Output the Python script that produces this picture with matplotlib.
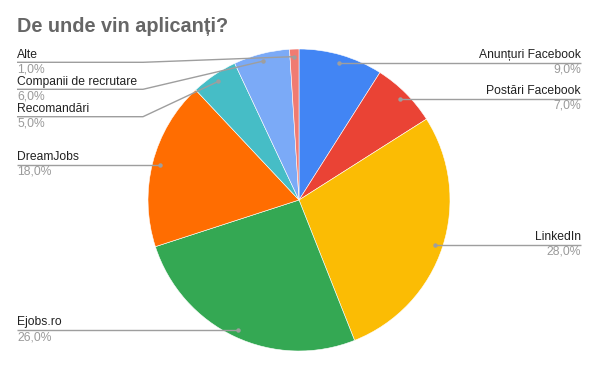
import math

import matplotlib

matplotlib.use("Agg")

import matplotlib.pyplot as plt

plt.rcParams["font.family"] = ["Liberation Sans", "DejaVu Sans"]

W, H = 598, 368

# date
categorii = [
    "Anunțuri Facebook",
    "Postări Facebook",
    "LinkedIn",
    "Ejobs.ro",
    "DreamJobs",
    "Recomandări",
    "Companii de recrutare",
    "Alte",
]
procente = [9.0, 7.0, 28.0, 26.0, 18.0, 5.0, 6.0, 1.0]
culori = ["#4285F4", "#EA4335", "#FBBC04", "#34A853", "#FF6D01",
          "#46BDC6", "#7BAAF7", "#F07B72"]

# aşezarea etichetelor (pixeli de sus), partea stânga/dreapta
eticheta_y = [62.7, 98.7, 244.7, 330.0, 164.7, 116.7, 89.3, 62.3]
eticheta_parte = ["R", "R", "R", "L", "L", "L", "L", "L"]

CX, CY, R = 299, 200, 151
X_STANGA, X_DREAPTA = 17, 581
COT_STANGA = 143

fig = plt.figure(figsize=(W / 100, H / 100), dpi=100)
ax = fig.add_axes([0, 0, 1, 1])

wedges, _ = ax.pie(
    procente,
    colors=culori,
    center=(CX, H - CY),
    radius=R,
    startangle=90,
    counterclock=False,
    wedgeprops=dict(edgecolor="white", linewidth=0.4),
    frame=True,
)
ax.set_xlim(0, W)
ax.set_ylim(0, H)
ax.axis("off")

linie = "#9e9e9e"
for w, nume, val, ly, parte in zip(wedges, categorii, procente, eticheta_y, eticheta_parte):
    mid = math.radians((w.theta1 + w.theta2) / 2)
    dx = CX + 0.95 * R * math.cos(mid)
    dy = (H - CY) + 0.95 * R * math.sin(mid)
    y = H - ly
    if parte == "L":
        x_text, ha = X_STANGA, "left"
    else:
        x_text, ha = X_DREAPTA, "right"
    if parte == "R" or abs(dy - y) < 3:
        xs, ys = [x_text, dx], [y, y]
        punct_y = y
    else:
        xs, ys = [x_text, COT_STANGA, dx], [y, y, dy]
        punct_y = dy
    ax.plot(xs, ys, color=linie, lw=1.0, solid_capstyle="butt", zorder=3)
    ax.plot([dx], [punct_y], "o", color=linie, ms=3.2, mec="none", zorder=4)
    ax.text(x_text, y + 1.5, nume, ha=ha, va="bottom", fontsize=8.7, color="#222222")
    ax.text(x_text, y - 1.0, f"{val:.1f}%".replace(".", ","), ha=ha, va="top",
            fontsize=8.7, color="#9a9a9a")

ax.text(17, H - 26, "De unde vin aplicanți?", ha="left", va="center",
        fontsize=14.3, fontweight="bold", color="#666666")

fig.savefig("out.png", dpi=100)
